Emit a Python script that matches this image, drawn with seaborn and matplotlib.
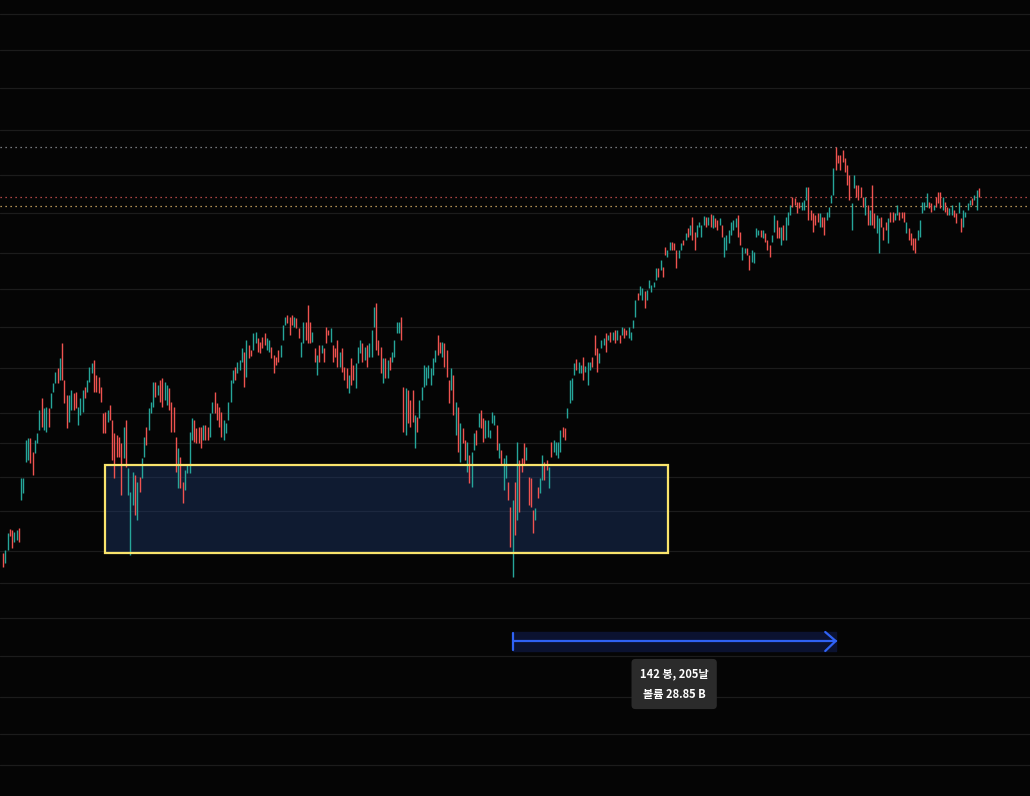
import numpy as np
import pandas as pd
import matplotlib
matplotlib.use('Agg')
import matplotlib.pyplot as plt
import seaborn as sns
from matplotlib.patches import Rectangle

# --- DATA (one value per bar) ---
opens = [
    247, 237, 250, 271, 270, 258, 260, 272, 300, 307,
    338, 340, 362, 348, 347, 357, 370, 402, 370, 368,
    392, 392, 408, 417, 432, 420, 457, 420, 405, 378,
    390, 407, 408, 375, 385, 388, 413, 408, 418, 427,
    440, 425, 423, 413, 387, 388, 378, 395, 380, 367,
    365, 363, 357, 342, 380, 305, 245, 295, 325, 280,
    323, 322, 343, 373, 370, 387, 393, 418, 405, 420,
    422, 400, 395, 412, 398, 393, 363, 312, 343, 318,
    310, 327, 327, 360, 380, 372, 373, 373, 360, 375,
    373, 363, 387, 408, 397, 393, 388, 360, 367, 380,
    398, 417, 433, 427, 430, 438, 448, 423, 455, 450,
    450, 457, 462, 458, 463, 467, 450, 448, 453, 445,
    443, 450, 443, 460, 475, 485, 483, 485, 473, 482,
    472, 443, 457, 478, 495, 478, 458, 452, 425, 455,
    447, 452, 473, 470, 458, 455, 452, 460, 433, 452,
    433, 432, 407, 442, 435, 412, 437, 447, 457, 440,
    455, 443, 443, 473, 497, 460, 453, 417, 442, 422,
    443, 438, 443, 467, 467, 483, 413, 365, 410, 400,
    410, 352, 383, 382, 400, 413, 415, 422, 415, 425,
    438, 465, 458, 443, 457, 450, 420, 410, 425, 365,
    393, 338, 372, 360, 328, 345, 313, 350, 370, 373,
    390, 382, 362, 363, 362, 377, 375, 375, 342, 350,
    310, 322, 318, 293, 223, 318, 280, 340, 342, 357,
    340, 323, 322, 290, 280, 313, 307, 320, 338, 340,
    312, 358, 348, 345, 342, 348, 373, 372, 382, 397,
    400, 425, 441, 427, 427, 443, 428, 415, 430, 443,
    465, 452, 437, 452, 455, 467, 460, 468, 460, 470,
    460, 465, 465, 472, 470, 462, 460, 472, 483, 507,
    505, 500, 509, 500, 512, 508, 513, 520, 532, 530,
    533, 553, 543, 550, 558, 557, 550, 542, 550, 560,
    560, 572, 565, 583, 568, 563, 573, 563, 575, 583,
    575, 586, 572, 582, 580, 575, 575, 543, 550, 557,
    565, 570, 573, 585, 568, 540, 547, 552, 545, 538,
    537, 563, 565, 570, 562, 567, 560, 555, 558, 568,
    580, 573, 555, 575, 560, 575, 585, 603, 602, 598,
    598, 590, 590, 600, 613, 590, 587, 585, 587, 573,
    583, 583, 580, 583, 597, 605, 653, 645, 645, 650,
    642, 635, 625, 570, 612, 615, 615, 613, 603, 585,
    595, 575, 615, 587, 567, 547, 583, 573, 578, 557,
    588, 588, 580, 585, 588, 588, 588, 567, 572, 567,
    562, 562, 560, 563, 587, 590, 593, 598, 597, 590,
    603, 608, 608, 590, 598, 593, 585, 585, 590, 587,
    587, 582, 573, 583, 590, 595, 602, 600, 590, 612,
]
closes = [
    233, 250, 267, 264, 252, 268, 270, 258, 322, 322,
    360, 362, 337, 325, 360, 367, 390, 373, 392, 393,
    373, 407, 417, 428, 417, 442, 420, 397, 372, 405,
    410, 390, 392, 393, 402, 410, 402, 420, 433, 437,
    408, 408, 407, 398, 367, 367, 390, 380, 340, 322,
    343, 343, 305, 373, 333, 332, 308, 328, 285, 318,
    308, 342, 363, 355, 392, 398, 418, 403, 415, 398,
    393, 418, 415, 390, 368, 368, 328, 352, 312, 297,
    330, 335, 368, 382, 358, 357, 357, 352, 375, 360,
    360, 387, 398, 387, 380, 373, 363, 380, 377, 398,
    420, 430, 420, 438, 440, 452, 413, 460, 442, 444,
    467, 468, 448, 447, 452, 455, 462, 460, 442, 427,
    435, 438, 455, 475, 483, 477, 465, 475, 483, 472,
    462, 458, 478, 460, 457, 457, 468, 438, 445, 438,
    455, 438, 457, 465, 472, 438, 443, 433, 448, 428,
    420, 412, 425, 415, 420, 437, 453, 460, 438, 453,
    433, 457, 470, 493, 450, 445, 427, 442, 422, 440,
    430, 448, 460, 478, 478, 460, 368, 412, 377, 373,
    378, 385, 368, 400, 413, 435, 433, 435, 432, 442,
    450, 445, 447, 458, 433, 423, 397, 432, 385, 398,
    348, 377, 357, 340, 358, 317, 348, 367, 355, 387,
    372, 358, 380, 380, 370, 388, 385, 350, 357, 335,
    342, 345, 300, 253, 300, 265, 358, 288, 328, 335,
    353, 295, 293, 267, 292, 302, 322, 345, 320, 330,
    333, 343, 360, 358, 358, 370, 363, 360, 392, 420,
    422, 437, 430, 438, 435, 420, 434, 438, 438, 433,
    445, 428, 447, 460, 462, 448, 465, 458, 468, 457,
    470, 457, 473, 462, 465, 473, 468, 480, 500, 500,
    514, 512, 492, 510, 520, 515, 518, 532, 523, 540,
    523, 545, 550, 558, 550, 550, 532, 550, 557, 555,
    567, 563, 575, 560, 550, 575, 578, 575, 584, 573,
    583, 573, 585, 573, 570, 582, 563, 563, 565, 570,
    578, 580, 582, 563, 555, 553, 552, 545, 530, 550,
    548, 572, 570, 563, 570, 558, 550, 543, 565, 585,
    562, 562, 573, 560, 583, 588, 595, 593, 595, 587,
    592, 598, 600, 613, 580, 580, 568, 575, 578, 587,
    573, 565, 588, 593, 605, 632, 630, 637, 630, 638,
    628, 615, 600, 597, 625, 603, 600, 603, 593, 603,
    575, 590, 575, 572, 585, 582, 573, 560, 570, 582,
    578, 578, 587, 595, 580, 582, 578, 578, 560, 555,
    550, 547, 570, 580, 598, 598, 607, 592, 588, 595,
    593, 597, 592, 603, 588, 585, 592, 595, 583, 577,
    598, 568, 590, 588, 597, 600, 595, 605, 610, 603,
]
grid_levels = [786, 750, 712, 670, 625, 587, 547, 511, 473, 432, 387,
               357, 323, 289, 249, 217, 182, 144, 103, 66, 35]
ref_level = 594
label_lines = ['142 봉, 205날', '볼륨 28.85 B']

# --- LAYOUT / STYLE ---
XLIM = (-1.32, 451.4)
YLIM = (4, 800)
BOX_X = (44.8, 292.3)
BOX_Y = (247, 335)
ARROW_Y = 159
BAND_Y = (149, 168)
LABEL_Y = 116

BG = '#050505'
GRID = '#1c1c1c'
UP = '#26a69a'
DOWN = '#ef5350'
BLUE = '#2f62f5'

sns.set_theme(style='dark', rc={'axes.facecolor': BG, 'figure.facecolor': BG})
plt.rcParams['font.family'] = ['Noto Sans CJK KR', 'DejaVu Sans']

df = pd.DataFrame({'open': opens, 'close': closes})
df['bar'] = np.arange(len(df))
df['color'] = np.where(df['close'] >= df['open'], UP, DOWN)

fig = plt.figure(figsize=(10.30, 7.96), dpi=100)
ax = fig.add_axes([0, 0, 1, 1])
ax.set_xlim(*XLIM)
ax.set_ylim(*YLIM)
ax.axis('off')

for lvl in grid_levels:
    ax.axhline(lvl, color=GRID, lw=0.9, zorder=0)

# support zone
ax.add_patch(Rectangle((BOX_X[0], BOX_Y[0]), BOX_X[1] - BOX_X[0], BOX_Y[1] - BOX_Y[0],
                       facecolor='#1d3a70', alpha=0.42, edgecolor='none', zorder=1))

# candles
ax.vlines(df['bar'], df['open'], df['close'], colors=df['color'], lw=1.0, zorder=2)

ax.add_patch(Rectangle((BOX_X[0], BOX_Y[0]), BOX_X[1] - BOX_X[0], BOX_Y[1] - BOX_Y[0],
                       fill=False, edgecolor='#f9e46c', lw=1.6, zorder=3))

# price lines
hi_price = max(df[['open', 'close']].max())
ax.axhline(hi_price, color='#9a9ca3', lw=0.9, ls=(0, (1, 3)), zorder=1)
ax.axhline(closes[-1], color='#e05a5a', lw=0.9, ls=(0, (1, 3)), zorder=1)
ax.axhline(ref_level, color='#e8c070', lw=0.9, ls=(0, (1, 3)), zorder=1)

# date range measure
lows_ = df[['open', 'close']].min(axis=1)
highs_ = df[['open', 'close']].max(axis=1)
i_low = int(lows_.idxmin())
i_high = int(highs_.idxmax())
ax.fill_between([i_low, i_high], BAND_Y[0], BAND_Y[1], color='#0b1230', zorder=1)
ax.plot([i_low, i_high], [ARROW_Y, ARROW_Y], color=BLUE, lw=1.6, zorder=4)
ax.plot([i_low, i_low], [BAND_Y[0] + 1, BAND_Y[1] - 1], color=BLUE, lw=1.6, zorder=4)
ax.plot([i_high - 4.6, i_high, i_high - 4.6], [BAND_Y[1], ARROW_Y, BAND_Y[0]],
        color=BLUE, lw=1.6, zorder=4, solid_joinstyle='miter')

ax.text((i_low + i_high) / 2, LABEL_Y, '\n'.join(label_lines), ha='center', va='center',
        color='white', fontsize=8, fontweight='bold', linespacing=1.75, zorder=5,
        bbox=dict(boxstyle='round,pad=0.75,rounding_size=0.35', fc='#2b2b2b', ec='none'))

fig.savefig('out.png', dpi=100, facecolor=BG)
